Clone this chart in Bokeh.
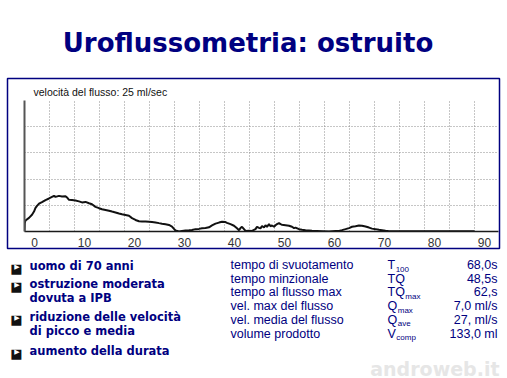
import numpy as np
from bokeh.plotting import figure
from bokeh.models import Range1d, FixedTicker
from bokeh.core.properties import value
from bokeh.embed import file_html
from bokeh.resources import INLINE

# ---------------- data ----------------
time_s = [-2.0, -1.95, -1.8, -1.1, -0.5, -0.1, 0.2, 0.5, 0.9, 1.5, 2.2, 2.9, 3.5, 3.9, 4.2, 4.9,
          5.5, 6.2, 6.5, 6.9, 7.5, 8.2, 8.9, 9.5, 10.2, 10.9, 11.5, 12.2, 12.9, 13.5, 14.2,
          14.9, 15.5, 16.2, 16.9, 17.5, 18.2, 18.9, 19.5, 20.2, 20.9, 21.5, 22.2, 22.9, 23.5,
          24.2, 24.9, 25.5, 26.2, 26.9, 27.5, 27.9, 28.2, 28.9, 29.5, 30.2, 30.9, 31.5, 32.2,
          32.9, 33.5, 34.2, 34.9, 35.5, 36.2, 36.9, 37.5, 38.2, 38.5, 39.2, 39.9, 40.5, 40.9,
          41.2, 41.5, 41.9, 42.2, 42.9, 43.5, 44.2, 44.5, 44.9, 45.2, 45.5, 45.9, 46.2, 46.5,
          46.9, 47.2, 47.5, 47.9, 48.2, 48.5, 48.9, 49.2, 49.5, 50.2, 50.9, 51.5, 51.9, 52.2,
          52.9, 53.5, 54.2, 55.5, 57.5, 58.9, 60.2, 60.9, 61.5, 62.2, 62.9, 63.5, 64.2, 64.9,
          65.5, 66.2, 66.9, 67.5, 68.2, 68.9, 69.5, 70.2, 70.9, 71.5, 75.0, 80.0, 85.0, 88.0]
flow_mls = [0.0, 1.6, 2.1, 2.6, 3.2, 3.8, 4.5, 4.9, 5.3, 5.6, 6.0, 6.3, 6.6, 6.8, 6.6, 6.8,
            6.7, 6.75, 6.5, 6.05, 6.0, 5.9, 5.75, 5.55, 5.65, 5.4, 5.2, 4.7, 4.45, 4.25, 4.1,
            3.95, 3.8, 3.63, 3.45, 3.3, 3.15, 3.0, 2.55, 2.2, 1.95, 1.9, 1.9, 1.85, 1.8,
            1.72, 1.6, 1.5, 1.4, 1.25, 0.95, 0.5, 0.2, 0.0, 0.1, 0.2, 0.25, 0.3, 0.45,
            0.5, 0.6, 0.65, 0.8, 1.15, 1.5, 1.7, 1.85, 1.8, 1.65, 1.4, 1.1, 0.6, 0.25,
            0.65, 0.9, 0.45, 0.1, 0.12, 0.1, 0.45, 0.9, 0.7, 0.6, 1.05, 0.75, 1.2, 0.9,
            1.4, 1.0, 1.15, 0.9, 1.2, 1.4, 1.6, 1.4, 1.3, 1.2, 1.1, 0.9, 0.65, 0.75,
            0.45, 0.35, 0.25, 0.13, 0.06, 0.0, 0.08, 0.1, 0.26, 0.45, 0.65, 0.9, 1.0, 1.15,
            1.1, 0.95, 0.75, 0.55, 0.45, 0.32, 0.25, 0.13, 0.06, 0.03, 0.03, 0.03, 0.03, 0.03]
x_tick_values = [0, 10, 20, 30, 40, 50, 60, 70, 80, 90]
y_grid_values = [5, 10, 15, 20, 25]

title_text = "Uroflussometria: ostruito"
scale_text = "velocità del flusso: 25 ml/sec"
bullet_items = [["uomo di 70 anni"],
                ["ostruzione moderata", "dovuta a IPB"],
                ["riduzione delle velocità", "di picco e media"],
                ["aumento della durata"]]
param_names = ["tempo di svuotamento", "tempo minzionale", "tempo al flusso max",
               "vel. max del flusso", "vel. media del flusso", "volume prodotto"]
param_symbols = ["T", "TQ", "TQ", "Q", "Q", "V"]
param_subscripts = ["100", "", "max", "max", "ave", "comp"]
param_values = ["68,0s", "48,5s", "62,s", "7,0 ml/s", "27, ml/s", "133,0 ml"]
watermark_text = "androweb.it"

# ---------------- layout ----------------
W, H = 507, 378
FL, FR, FT, FB = 24, 498, 100, 231          # chart frame in page pixels
NAVY = "#000080"
ARIAL = value("Liberation Sans")
HEAVY = value("DejaVu Sans")

p = figure(width=W, height=H,
           x_range=Range1d(-2, 92.8), y_range=Range1d(0, 25),
           min_border_left=FL, min_border_right=W - FR,
           min_border_top=FT, min_border_bottom=H - FB,
           output_backend="svg", toolbar_location=None,
           outline_line_color=None, background_fill_color="white",
           border_fill_color="white")
# page-pixel coordinate system (y measured from top) for the page decorations
p.extra_x_ranges = {"px": Range1d(FL, FR)}
p.extra_y_ranges = {"py": Range1d(FB, FT)}
PX = dict(x_range_name="px", y_range_name="py", level="overlay")

# axes
xa = p.xaxis[0]
xa.ticker = FixedTicker(ticks=x_tick_values)
xa.major_tick_line_color = None
xa.minor_tick_line_color = None
xa.axis_line_color = "#1a1a1a"
xa.axis_line_width = 1.5
xa.major_label_standoff = 0
xa.major_label_text_font = "Liberation Sans"
xa.major_label_text_font_size = "12px"
xa.major_label_text_color = "#333333"

ya = p.yaxis[0]
ya.ticker = FixedTicker(ticks=[])
ya.major_tick_line_color = None
ya.minor_tick_line_color = None
ya.axis_line_color = "#555555"
ya.axis_line_width = 2

# dotted grid
p.xgrid.ticker = FixedTicker(ticks=[int(v) for v in np.arange(3, 89, 5)])
p.ygrid.ticker = FixedTicker(ticks=y_grid_values)
for g in (p.xgrid[0], p.ygrid[0]):
    g.grid_line_color = "#8c8c8c"
    g.grid_line_dash = "1 2"
    g.grid_line_width = 1

# flow curve
p.line(time_s, flow_mls, line_color="#111111", line_width=2)

# navy frame round the chart
p.quad(left=[7], right=[499], top=[78], bottom=[248], fill_color=None,
       line_color=NAVY, line_width=1.5, **PX)

# scale caption
p.text(x=[33], y=[91], text=[scale_text], text_font=ARIAL, text_font_size="10.5px",
       text_color="#111111", text_baseline="middle", **PX)

# title
p.text(x=[247.5], y=[42], text=[title_text], text_font=HEAVY, text_font_style="bold",
       text_font_size="26px", text_color=NAVY, text_align="center",
       text_baseline="alphabetic", **PX)

# bullets
bullet_y = [265, 283, 316, 350]
line_gap = 14
bx, by, bt = [], [], []
for item, y0 in zip(bullet_items, bullet_y):
    for k, line in enumerate(item):
        bx.append(29)
        by.append(y0 + k * line_gap)
        bt.append(line)
p.text(x=bx, y=by, text=bt, text_font=HEAVY, text_font_style="bold",
       text_font_size="11.5px", text_color=NAVY, text_baseline="middle", **PX)
nb = len(bullet_y)
p.text(x=[16] * nb, y=[y + 2.5 for y in bullet_y], text=["■"] * nb, text_font=HEAVY,
       text_font_size="13px", text_color="#111111", text_align="center",
       text_baseline="alphabetic", **PX)
p.text(x=[16.5] * nb, y=[y + 1.5 for y in bullet_y], text=["▶"] * nb, text_font=HEAVY,
       text_font_size="7px", text_color="white", text_align="center",
       text_baseline="alphabetic", **PX)

# parameter table
row_y = [264.5 + i * 13.7 for i in range(len(param_names))]
FS = 12.5
p.text(x=[230] * len(row_y), y=row_y, text=param_names, text_font=ARIAL,
       text_font_size=f"{FS}px", text_color=NAVY, text_baseline="middle", **PX)
p.text(x=[387] * len(row_y), y=row_y, text=param_symbols, text_font=ARIAL,
       text_font_size=f"{FS}px", text_color=NAVY, text_baseline="middle", **PX)
glyph_w = {"T": 0.611, "Q": 0.778, "V": 0.667}
sub_x = [387 + sum(glyph_w[c] for c in s) * FS + 0.5 for s in param_symbols]
p.text(x=sub_x, y=[y + 4 for y in row_y], text=param_subscripts, text_font=ARIAL,
       text_font_size="8px", text_color=NAVY, text_baseline="alphabetic", **PX)
p.text(x=[497] * len(row_y), y=row_y, text=param_values, text_font=ARIAL,
       text_font_size=f"{FS}px", text_color=NAVY, text_align="right",
       text_baseline="middle", **PX)

# watermark
p.text(x=[499], y=[368], text=[watermark_text], text_font=HEAVY, text_font_style="bold",
       text_font_size="19px", text_color="#e6e6e6", text_align="right",
       text_baseline="alphabetic", **PX)

open("out.html", "w").write(file_html(p, INLINE))
